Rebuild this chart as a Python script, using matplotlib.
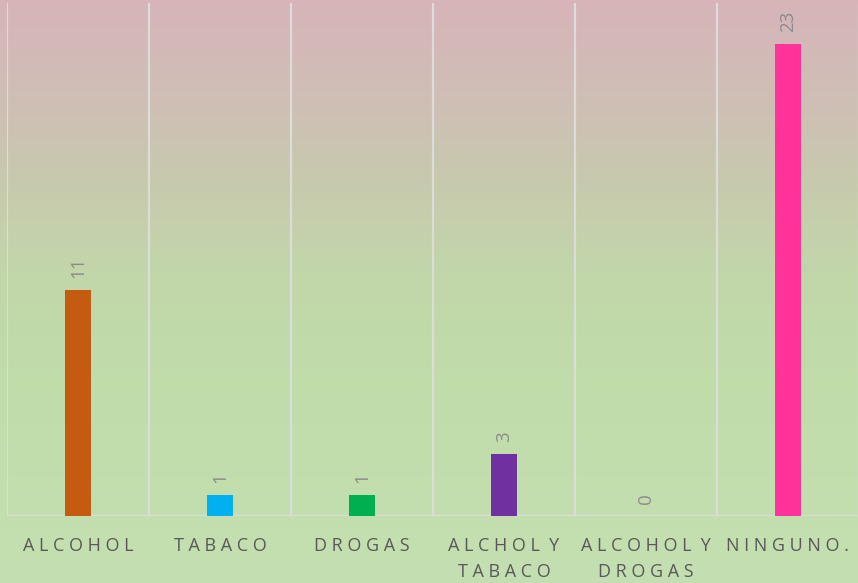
import numpy as np
import matplotlib
matplotlib.use("Agg")
import matplotlib.pyplot as plt
from matplotlib.colors import to_rgb

categories = ["ALCOHOL", "TABACO", "DROGAS", "ALCHOL Y\nTABACO", "ALCOHOL Y\nDROGAS", "NINGUNO."]
values = [11, 1, 1, 3, 0, 23]
bar_colors = ["#C55A11", "#00B0F0", "#00B050", "#7030A0", "#A5A5A5", "#FF3399"]

W, H = 858, 583
fig = plt.figure(figsize=(W / 100, H / 100), dpi=100)

# background gradient (pink at top -> green at bottom)
stops_y = [0, 100, 170, 270, 370, 583]
stops_c = ["#D7B4B9", "#CFBFB5", "#C8C8AE", "#C2D6AA", "#C0DCA9", "#C4E0B2"]
rows = np.arange(H)
rgb = np.array([to_rgb(c) for c in stops_c])
grad = np.stack([np.interp(rows, stops_y, rgb[:, k]) for k in range(3)], axis=1)
img = np.repeat(grad[:, None, :], 4, axis=1)
bg = fig.add_axes([0, 0, 1, 1], zorder=0)
bg.imshow(img, aspect="auto", extent=[0, 1, 0, 1], interpolation="bilinear")
bg.axis("off")

ax = fig.add_axes([7 / W, 67 / H, 852 / W, 513 / H], zorder=1)
ax.patch.set_alpha(0)
x = np.arange(len(categories))
ax.bar(x, values, width=0.185, color=bar_colors, zorder=3)
ax.set_xlim(-0.5, len(categories) - 0.5)
ax.set_ylim(0, 25)

grid_col = "#DCDCDC"
for b in np.arange(-0.5, len(categories), 1.0):
    ax.axvline(b, color=grid_col, lw=1.6, zorder=1)
ax.axhline(0, color=grid_col, lw=1.6, zorder=2)

for xi, v in zip(x, values):
    ax.annotate(str(v), (xi, v), xytext=(0, 9), textcoords="offset points",
                rotation=90, ha="center", va="bottom", color="#8C8C8C",
                fontsize=13.5, family="Open Sans")


def spaced(label):
    lines = []
    for line in label.split("\n"):
        lines.append("  ".join(" ".join(w) for w in line.split(" ")))
    return "\n".join(lines)


ax.set_xticks(x)
ax.set_xticklabels([spaced(c) for c in categories], fontsize=13, color="#595959",
                   family="Open Sans", linespacing=1.55)
ax.tick_params(axis="x", length=0, pad=15)
ax.set_yticks([])
for s in ax.spines.values():
    s.set_visible(False)

fig.savefig("out.png", dpi=100)
